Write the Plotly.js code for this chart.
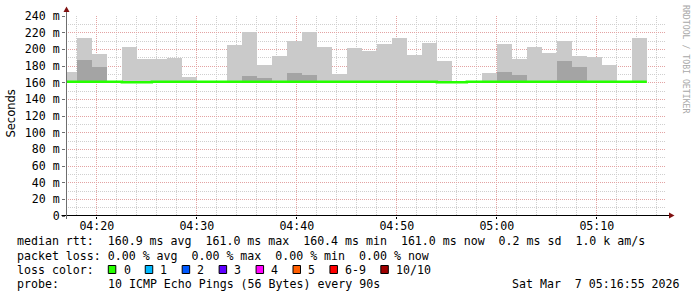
<!DOCTYPE html>
<html>
<head>
<meta charset="utf-8">
<script src="https://cdn.plot.ly/plotly-3.0.1.min.js"></script>
<style>
html,body{margin:0;padding:0;background:#fff;}
#chart{width:697px;height:297px;}
</style>
</head>
<body>
<div id="chart"></div>
<script>
// ---- data ----
const day = '2026-03-07 ';
const stepStart = [
  '04:16:30','04:18:00','04:19:30','04:21:00','04:22:30','04:24:00','04:25:30','04:27:00',
  '04:28:30','04:30:00','04:31:30','04:33:00','04:34:30','04:36:00','04:37:30','04:39:00',
  '04:40:30','04:42:00','04:43:30','04:45:00','04:46:30','04:48:00','04:49:30','04:51:00',
  '04:52:30','04:54:00','04:55:30','04:57:00','04:58:30','05:00:00','05:01:30','05:03:00',
  '05:04:30','05:06:00','05:07:30','05:09:00','05:10:30','05:12:00','05:13:30'
];
const lastStepEnd = '05:15:00';
// highest ping per step (ms)
const maxRtt = [
  172.8,213.6,194.4,161.0,202.8,188.5,188.5,189.6,
  167.2,161.0,161.0,205.2,221.2,180.8,192.0,210.0,
  221.2,202.8,170.4,201.6,198.4,206.4,213.6,193.2,
  208.0,186.4,161.0,161.0,171.6,206.4,188.8,202.8,
  195.6,210.0,192.0,190.8,181.2,161.0,213.6
];
// second highest ping per step (ms), null where hidden under the median line
const secondMaxRtt = [
  null,187.6,179.2,null,null,null,null,null,
  null,null,null,null,168.4,166.0,null,171.6,
  169.6,null,null,null,null,null,null,null,
  null,null,null,null,null,172.8,169.2,null,
  null,186.0,179.2,null,null,null,null
];
// lowest ping per step (ms)
const minRtt = [
  160.5,160.5,160.5,160.5,160.0,160.0,160.5,160.5,
  160.5,160.5,160.5,160.5,160.5,160.5,160.5,160.5,
  160.5,160.5,160.5,160.5,160.5,160.5,160.5,160.5,
  160.5,160.0,160.0,160.5,160.5,160.5,160.5,160.5,
  160.5,160.5,160.5,160.5,160.5,160.5,160.5
];
// median rtt per step (ms)
const medianRtt = [
  161.0,161.0,161.0,161.0,160.4,160.4,161.0,161.0,
  161.0,161.0,161.0,161.0,161.0,161.0,161.0,161.0,
  161.0,161.0,161.0,161.0,161.0,161.0,161.0,161.0,
  161.0,160.4,160.4,161.0,161.0,161.0,161.0,161.0,
  161.0,161.0,161.0,161.0,161.0,161.0,161.0
];
const yTicks = [0,20,40,60,80,100,120,140,160,180,200,220,240];
const xTickLabels = ['04:20','04:30','04:40','04:50','05:00','05:10'];
const rttLine = 'median rtt:  160.9 ms avg  161.0 ms max  160.4 ms min  161.0 ms now  0.2 ms sd  1.0 k am/s';
const lossLine = 'packet loss: 0.00 % avg  0.00 % max  0.00 % min  0.00 % now';
const lossTitle = 'loss color:';
const lossLabels = ['0','1','2','3','4','5','6-9','10/10'];
const lossColors = ['#26ff00','#00b8ff','#0059ff','#5e00ff','#ff00fe','#ff5e00','#ff0000','#a00000'];
const probeTitle = 'probe:';
const probeText = '10 ICMP Echo Pings (56 Bytes) every 90s';
const dateText = 'Sat Mar  7 05:16:55 2026';
const watermark = 'RRDTOOL / TOBI OETIKER';
const yTitle = 'Seconds';

// ---- layout helpers ----
const W = 697, H = 297, L = 66, R = 666, T = 16, B = 216;
const px = x => (x - L) / (R - L);
const py = y => (B - y) / (B - T);
const nb = s => s.replace(/ /g, '\u00a0');
const MONO = 'DejaVu Sans Mono';
const FS = 11.6;

const xs = stepStart.map(t => day + t);
const stepMs = 90000;

const traces = [
  {
    type: 'bar', x: xs, base: minRtt,
    y: maxRtt.map((v, i) => v - minRtt[i]),
    width: stepMs, offset: 0,
    marker: {color: '#cacaca', line: {width: 0}},
    hoverinfo: 'skip'
  },
  {
    type: 'bar', x: xs, base: minRtt,
    y: secondMaxRtt.map((v, i) => v === null ? null : v - minRtt[i]),
    width: stepMs, offset: 0,
    marker: {color: '#a4a4a4', line: {width: 0}},
    hoverinfo: 'skip'
  },
  {
    type: 'scatter', mode: 'lines',
    x: xs.concat([day + lastStepEnd]),
    y: medianRtt.concat([medianRtt[medianRtt.length - 1]]),
    line: {shape: 'hv', color: '#26ff00', width: 2.5},
    hoverinfo: 'skip'
  }
];

const annotations = [];
function txt(text, x, y, opts) {
  annotations.push(Object.assign({
    text: nb(text), xref: 'paper', yref: 'paper', x: px(x), y: py(y),
    xanchor: 'left', yanchor: 'middle', showarrow: false,
    font: {family: MONO, size: FS, color: '#000'}, borderpad: 0
  }, opts || {}));
}
txt(rttLine, 16, 241);
txt(lossLine, 16, 256);
txt(lossTitle, 16, 270);
txt(probeTitle, 16, 284);
txt(probeText, 107, 284);
txt(dateText, 681, 284, {xanchor: 'right'});
txt(yTitle, 10.5, 114, {xanchor: 'center', textangle: -90, font: {family: 'DejaVu Sans', size: 11.5, color: '#000'}});
txt(watermark, 686, 59, {xanchor: 'center', textangle: 90, font: {family: MONO, size: 8.2, color: '#a8a8a8'}});

const shapes = [];
const charW = 6.97;
let bx = 108.3;
lossLabels.forEach((lab, i) => {
  shapes.push({type: 'rect', xref: 'paper', yref: 'paper',
    x0: px(bx), x1: px(bx + 7.5), y0: py(265.5), y1: py(273.5),
    fillcolor: lossColors[i], line: {color: '#000', width: 1}});
  txt(lab, bx + 14.2, 270);
  bx += (lab.length + 4.3) * charW;
});
// axis lines and arrows
shapes.push({type: 'line', xref: 'paper', yref: 'paper', x0: px(61.5), x1: px(670), y0: py(215.5), y1: py(215.5), line: {color: '#000', width: 1}});
shapes.push({type: 'line', xref: 'paper', yref: 'paper', x0: px(66.5), x1: px(66.5), y0: py(219), y1: py(11), line: {color: '#6e6e6e', width: 1}});
shapes.push({type: 'path', xref: 'paper', yref: 'paper',
  path: 'M' + px(669) + ',' + py(212.5) + ' L' + px(674.5) + ',' + py(215.5) + ' L' + px(669) + ',' + py(218.5) + ' Z',
  fillcolor: '#7f1010', line: {width: 0}});
shapes.push({type: 'path', xref: 'paper', yref: 'paper',
  path: 'M' + px(63.5) + ',' + py(12) + ' L' + px(66.5) + ',' + py(6.5) + ' L' + px(69.5) + ',' + py(12) + ' Z',
  fillcolor: '#7f1010', line: {width: 0}});

const majorGrid = '#e3a3a3';
const minorGrid = '#cfcfcf';

const layout = {
  width: W, height: H,
  margin: {l: L, r: W - R, t: T, b: H - B, autoexpand: false},
  paper_bgcolor: '#fff', plot_bgcolor: '#fff',
  showlegend: false, barmode: 'overlay', bargap: 0,
  font: {family: MONO, size: FS, color: '#000'},
  xaxis: {
    type: 'date',
    range: [day + '04:16:55', day + '05:16:55'],
    tickvals: xTickLabels.map(t => day + t),
    ticktext: xTickLabels,
    ticks: 'outside', ticklen: 2, tickcolor: '#000',
    ticklabelstandoff: -3,
    showgrid: true, gridcolor: majorGrid, griddash: '1px,1px', gridwidth: 1,
    minor: {dtick: 120000, tick0: day + '04:20', showgrid: true, gridcolor: minorGrid, griddash: '1px,1px', ticks: ''},
    showline: false, zeroline: false, fixedrange: true,
    tickfont: {family: MONO, size: FS, color: '#000'}
  },
  yaxis: {
    range: [0, 240],
    tickvals: yTicks,
    ticktext: yTicks.map(v => v === 0 ? '0' : nb(v + ' m')),
    ticks: 'outside', ticklen: 3, tickcolor: '#6e6e6e',
    showgrid: true, gridcolor: majorGrid, griddash: '1px,1px', gridwidth: 1,
    minor: {dtick: 10, showgrid: true, gridcolor: minorGrid, griddash: '1px,1px', ticks: ''},
    showline: false, zeroline: false, fixedrange: true,
    tickfont: {family: MONO, size: FS, color: '#000'}
  },
  annotations: annotations,
  shapes: shapes
};

Plotly.newPlot('chart', traces, layout, {staticPlot: true, displayModeBar: false});
</script>
</body>
</html>
